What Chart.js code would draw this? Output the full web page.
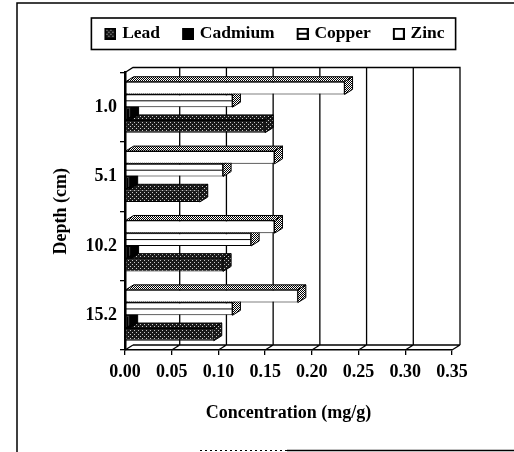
<!DOCTYPE html>
<html>
<head>
<meta charset="utf-8">
<script src="https://cdn.jsdelivr.net/npm/chart.js@4/dist/chart.umd.min.js"></script>
<style>
  html, body { margin: 0; padding: 0; background: #fff; }
  #wrap { width: 514px; height: 452px; }
</style>
</head>
<body>
<div id="wrap"><canvas id="c" width="514" height="452"></canvas></div>
<script>
// Sediment depth categories and metal concentrations (mg/g)
const depths = ['1.0', '5.1', '10.2', '15.2'];
const lead = [0.150, 0.080, 0.105, 0.095];
const cadmium = [0.006, 0.005, 0.006, 0.005];
const copper = [0.115, 0.105, 0.135, 0.115];
const zinc = [0.235, 0.160, 0.160, 0.185];
const concTicks = ['0.00', '0.05', '0.10', '0.15', '0.20', '0.25', '0.30', '0.35'];

const SERIF = '"Liberation Serif", "Times New Roman", Times, serif';
const canvas = document.getElementById('c');
const ctx = canvas.getContext('2d');

function tile(w, h, paint) {
  const c = document.createElement('canvas');
  c.width = w; c.height = h;
  paint(c.getContext('2d'));
  return c;
}

// Fill textures
const leadTile = tile(4, 4, g => {
  g.fillStyle = '#1a1a1a'; g.fillRect(0, 0, 4, 4);
  g.fillStyle = '#c8c8c8'; g.fillRect(0, 0, 1, 1); g.fillRect(2, 2, 1, 1);
});
const ditherTile = tile(2, 2, g => {
  g.fillStyle = '#fff'; g.fillRect(0, 0, 2, 2);
  g.fillStyle = '#000'; g.fillRect(0, 0, 1, 1); g.fillRect(1, 1, 1, 1);
});
const leadFill = ctx.createPattern(leadTile, 'repeat');
const ditherFill = ctx.createPattern(ditherTile, 'repeat');

// Legend markers
function marker(kind) {
  return tile(16, 12, g => {
    g.lineWidth = 2;
    g.strokeStyle = '#000';
    if (kind === 'lead') { g.fillStyle = g.createPattern(leadTile, 'repeat'); }
    else if (kind === 'cadmium') { g.fillStyle = '#000'; }
    else { g.fillStyle = '#fff'; }
    g.fillRect(5, 1, 10, 10);
    g.strokeRect(5, 1, 10, 10);
    if (kind === 'copper') {
      g.beginPath(); g.moveTo(5, 6); g.lineTo(15, 6); g.stroke();
    }
  });
}

// 3-D depth offset of the plot box
const DX = 8, DY = 5;

const depthPlugin = {
  id: 'depth3d',
  beforeDatasetsDraw(chart) {
    const { ctx: c, chartArea: a, scales: { x } } = chart;
    c.save();
    c.strokeStyle = '#000';
    c.lineWidth = 1.3;
    c.beginPath();
    // back wall outline
    c.moveTo(a.left, a.top); c.lineTo(a.left + DX, a.top - DY);
    c.lineTo(a.right + DX, a.top - DY); c.lineTo(a.right + DX, a.bottom - DY);
    // floor
    c.moveTo(a.left + DX, a.bottom - DY); c.lineTo(a.right + DX, a.bottom - DY);
    c.moveTo(a.left, a.bottom); c.lineTo(a.left + DX, a.bottom - DY);
    // back-wall gridlines and floor connectors
    x.ticks.forEach(t => {
      const px = x.getPixelForValue(t.value);
      if (t.value > 0) {
        c.moveTo(px + DX, a.top - DY); c.lineTo(px + DX, a.bottom - DY);
      }
      c.moveTo(px, a.bottom); c.lineTo(px + DX, a.bottom - DY);
    });
    c.stroke();
    c.restore();
  },
  afterDatasetDraw(chart, args) {
    const meta = args.meta;
    const ds = chart.data.datasets[args.index];
    const c = chart.ctx;
    c.save();
    c.strokeStyle = '#000';
    c.lineWidth = 1;
    meta.data.forEach(el => {
      const p = el.getProps(['x', 'y', 'base', 'height'], true);
      const l = Math.min(p.base, p.x), r = Math.max(p.base, p.x);
      const t = p.y - p.height / 2, b = p.y + p.height / 2;
      c.fillStyle = ds.faceColor;
      // top face
      c.beginPath();
      c.moveTo(l, t); c.lineTo(l + DX, t - DY); c.lineTo(r + DX, t - DY); c.lineTo(r, t);
      c.closePath(); c.fill(); c.stroke();
      // end face
      c.beginPath();
      c.moveTo(r, t); c.lineTo(r + DX, t - DY); c.lineTo(r + DX, b - DY); c.lineTo(r, b);
      c.closePath(); c.fill(); c.stroke();
      if (ds.midLine) {
        c.beginPath(); c.moveTo(l, p.y); c.lineTo(r, p.y); c.stroke();
      }
    });
    c.restore();
  },
  afterDraw(chart) {
    const c = chart.ctx;
    c.save();
    c.strokeStyle = '#000';
    // legend frame
    const hb = chart.legend.legendHitBoxes;
    if (hb && hb.length) {
      const minX = Math.min(...hb.map(h => h.left));
      const maxX = Math.max(...hb.map(h => h.left + h.width));
      const top = hb[0].top, h = hb[0].height;
      c.lineWidth = 1.6;
      c.strokeRect(minX - 12, top - 7, maxX - minX + 23, h + 14);
    }
    // page frame
    c.lineWidth = 1.5;
    c.beginPath();
    c.moveTo(17, 452); c.lineTo(17, 3); c.lineTo(514, 3);
    c.moveTo(287, 450.5); c.lineTo(514, 450.5);
    c.stroke();
    c.setLineDash([2, 3]);
    c.lineWidth = 1;
    c.beginPath(); c.moveTo(200, 450.5); c.lineTo(287, 450.5); c.stroke();
    c.restore();
  }
};

const common = { borderColor: '#000', borderWidth: 1, borderSkipped: false,
                 categoryPercentage: 0.734, barPercentage: 1, xAxisID: 'x', yAxisID: 'y' };

new Chart(ctx, {
  type: 'bar',
  data: {
    labels: depths,
    datasets: [
      { ...common, label: 'Zinc', data: zinc, backgroundColor: '#fff', faceColor: ditherFill, pointStyle: marker('zinc') },
      { ...common, label: 'Copper', data: copper, backgroundColor: '#fff', faceColor: ditherFill, midLine: true, pointStyle: marker('copper') },
      { ...common, label: 'Cadmium', data: cadmium, backgroundColor: '#000', faceColor: '#000', pointStyle: marker('cadmium') },
      { ...common, label: 'Lead', data: lead, backgroundColor: leadFill, faceColor: leadFill, pointStyle: marker('lead') }
    ]
  },
  options: {
    indexAxis: 'y',
    responsive: false,
    animation: false,
    devicePixelRatio: 1,
    layout: { padding: { left: 34, top: 4, right: 0, bottom: 0 } },
    plugins: {
      tooltip: { enabled: false },
      legend: {
        position: 'top',
        reverse: true,
        labels: {
          usePointStyle: true,
          pointStyleWidth: 10,
          padding: 21,
          color: '#000',
          font: { family: SERIF, size: 17.5, weight: 'bold' }
        }
      }
    },
    scales: {
      x: {
        type: 'linear', axis: 'x', position: 'bottom',
        min: 0, max: 0.35,
        ticks: { stepSize: 0.05, color: '#000', padding: 7,
                 font: { family: SERIF, size: 18, weight: 'bold' },
                 callback: (v, i) => concTicks[i] },
        grid: { drawOnChartArea: false, drawTicks: true, tickLength: 5, color: '#000', lineWidth: 1.3 },
        border: { display: true, color: '#000', width: 1.5 },
        title: { display: true, text: 'Concentration (mg/g)', color: '#000',
                 font: { family: SERIF, size: 18, weight: 'bold' }, padding: { top: 0, bottom: 28 } },
        afterFit: s => { s.height = 102; }
      },
      xTop: {
        type: 'linear', axis: 'x', position: 'top', display: true,
        ticks: { display: false }, grid: { display: false }, border: { display: false },
        afterFit: s => { s.height = 20; }
      },
      y: {
        type: 'category', position: 'left', offset: true,
        ticks: { color: '#000', padding: 3, font: { family: SERIF, size: 18, weight: 'bold' } },
        grid: { drawOnChartArea: false, drawTicks: true, tickLength: 5, color: '#000', offset: true, lineWidth: 1.3 },
        border: { display: true, color: '#000', width: 2.5 },
        title: { display: true, text: 'Depth (cm)', color: '#000',
                 font: { family: SERIF, size: 18, weight: 'bold' }, padding: { top: 17, bottom: 0 } },
        afterFit: s => { s.width = 91; }
      },
      yRight: {
        type: 'linear', axis: 'y', position: 'right', display: true,
        ticks: { display: false }, grid: { display: false }, border: { display: false },
        afterFit: s => { s.width = 62; }
      }
    }
  },
  plugins: [depthPlugin]
});
</script>
</body>
</html>
